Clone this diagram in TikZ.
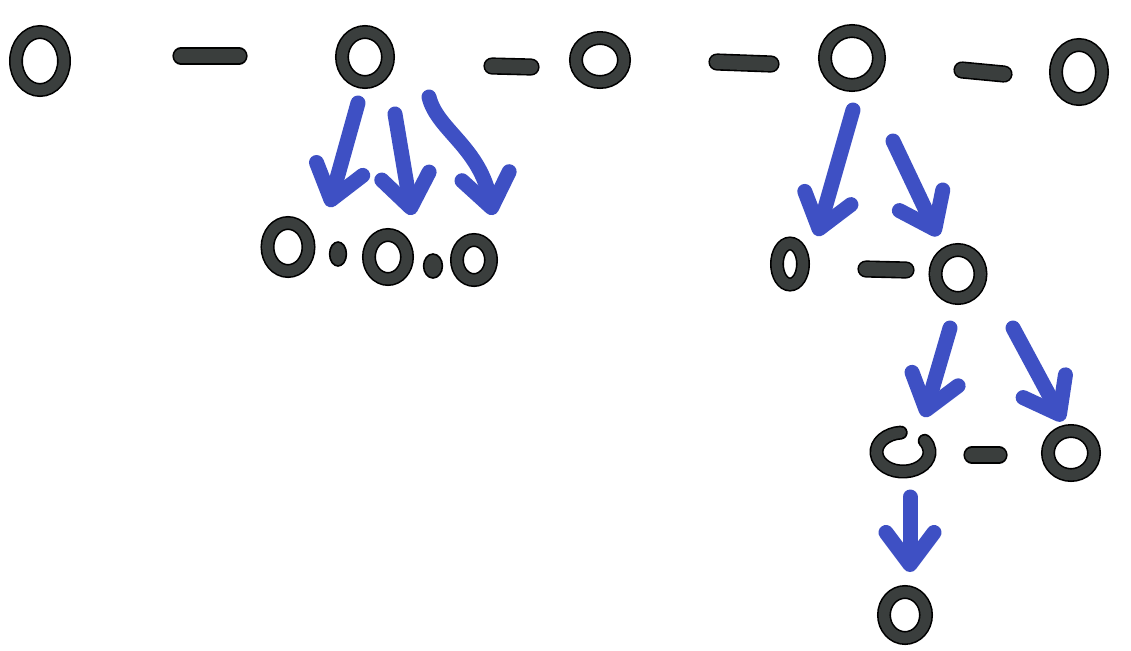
\documentclass[tikz,border=0pt]{standalone}
\usetikzlibrary{arrows.meta,calc,shapes.geometric}
\definecolor{ink}{RGB}{58,62,61}
\definecolor{marker}{RGB}{62,80,196}
\tikzset{
  ring/.style={ellipse, inner sep=0pt, draw=black, double=ink, double distance=5.4pt, line width=0.8pt},
  bar/.style={draw=black, double=ink, double distance=7pt, line width=0.8pt, line cap=round},
  bead/.style={fill=ink, draw=black, line width=0.8pt},
  arr/.style={draw=marker, line width=7.5pt, line cap=round, line join=round,
    -{Straight Barb[length=16pt, width=24pt, round]}},
}
\begin{document}
\begin{tikzpicture}[x=0.5pt, y=-0.5pt]
\useasboundingbox[fill=white] (0,0) rectangle (1131,650);
% top row
\node[ring, minimum width=24pt, minimum height=29pt] (t1) at (40,61) {};
\node[ring, minimum width=23pt, minimum height=25pt] (t2) at (365,57) {};
\node[ring, minimum width=24pt, minimum height=22pt] (t3) at (600,60) {};
\node[ring, minimum width=27pt, minimum height=27pt] (t4) at (852,58) {};
\node[ring, minimum width=23pt, minimum height=27pt] (t5) at (1079,72) {};
\draw[bar] ($(t1)+(141,-5)$) -- ($(t2)+(-126,-1)$);
\draw[bar] ($(t2)+(127,9)$) -- ($(t3)+(-69,7)$);
\draw[bar] ($(t3)+(117,2)$) -- ($(t4)+(-81,6)$);
\draw[bar] ($(t4)+(110,12)$) -- ($(t5)+(-75,2)$);
% children of t2
\node[ring, minimum width=20.5pt, minimum height=24pt] (c1) at (288,247) {};
\node[ring, minimum width=19pt, minimum height=22pt] (c2) at (388,257) {};
\node[ring, minimum width=17pt, minimum height=20pt] (c3) at (474,260) {};
\draw[bead] ($(c1)+(50,7)$) ellipse [x radius=4.2pt, y radius=6pt];
\draw[bead] ($(c2)+(45,9)$) ellipse [x radius=4.7pt, y radius=6pt];
\draw[arr] ($(t2)+(-7,46)$) -- ($(c1)+(41,-40)$);
\draw[arr] ($(t2)+(30,57)$) -- ($(c2)+(24,-42)$);
\draw[arr] ($(t2)+(64,40)$) .. controls ($(t2)+(72,73)$) and ($(t2)+(115,90)$) .. ($(c3)+(19,-45)$);
% subtree of t4
\node[ring, minimum width=13pt, minimum height=20.5pt] (r1) at (790,264) {};
\node[ring, minimum width=22.5pt, minimum height=24pt] (r2) at (958,274) {};
\draw[bar] ($(r1)+(76,5)$) -- ($(r2)+(-52,-4)$);
\draw[arr] ($(t4)+(1,52)$) -- ($(r1)+(27,-28)$);
\draw[arr] ($(t4)+(41,83)$) -- ($(r2)+(-20,-38)$);
% subtree of r2
\node[ellipse, inner sep=0pt, minimum width=26.5pt, minimum height=19.5pt] (s1) at (903,452) {};
\draw[draw=black, double=ink, double distance=5.4pt, line width=0.8pt, line cap=round]
  ($(s1)+(-2.3,-19.4)$) arc[start angle=-95, end angle=-395, x radius=26.5, y radius=19.5];
\node[ring, minimum width=23pt, minimum height=22pt] (s2) at (1071,453) {};
\draw[bar] ($(s1)+(69,3)$) -- ($(s2)+(-72,2)$);
\draw[arr] ($(r2)+(-8,54)$) -- ($(s1)+(21,-35)$);
\draw[arr] ($(r2)+(55,54)$) -- ($(s2)+(-8,-32)$);
% bottom
\node[ring, minimum width=21pt, minimum height=23pt] (b) at (905,615) {};
\draw[arr] ($(s1)+(7,45)$) -- ($(b)+(5,-43)$);
\end{tikzpicture}
\end{document}
